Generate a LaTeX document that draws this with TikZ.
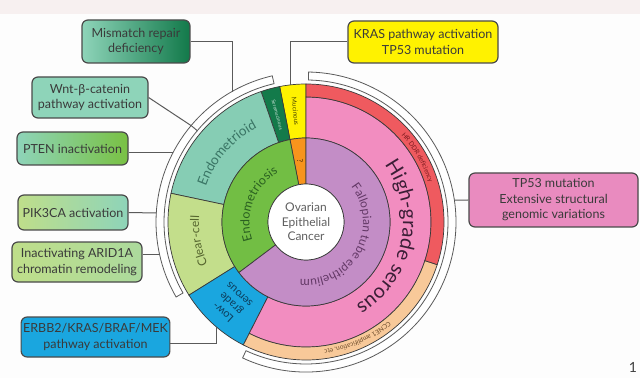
\documentclass[tikz,border=0pt]{standalone}
\usepackage{fontspec}
\setmainfont{Lato}
\usetikzlibrary{decorations.text}
\definecolor{bgcol}{HTML}{FDFDFD}
\definecolor{topstrip}{HTML}{F7F0F0}
\definecolor{ringline}{HTML}{3A3A3A}
\definecolor{brackline}{HTML}{5A5A5A}
\definecolor{boxline}{HTML}{4A4A4A}
\definecolor{boxtext}{HTML}{3A3A3A}
\definecolor{endoTeal}{HTML}{86CDB4}
\definecolor{seroGreen}{HTML}{137A4A}
\definecolor{mucYellow}{HTML}{FFF200}
\definecolor{qOrange}{HTML}{F7941D}
\definecolor{endosGreen}{HTML}{72BE44}
\definecolor{clearGreen}{HTML}{C3DE8B}
\definecolor{lgsBlue}{HTML}{1AA6DF}
\definecolor{fallPurple}{HTML}{C38DC6}
\definecolor{hgsPink}{HTML}{F28DC0}
\definecolor{ddrRed}{HTML}{EF5A5F}
\definecolor{ccnePeach}{HTML}{F8C999}
\definecolor{tealBox}{HTML}{8ED4B9}
\definecolor{darkGreenBox}{HTML}{12794A}
\definecolor{greenBox}{HTML}{79C143}
\definecolor{lightGreenBox}{HTML}{BFDE8A}
\definecolor{pinkBox}{HTML}{E98BBF}
\definecolor{endoTxt}{HTML}{3A7565}
\definecolor{endosTxt}{HTML}{2A6020}
\definecolor{fallTxt}{HTML}{633866}
\definecolor{clearTxt}{HTML}{55652E}
\definecolor{hgsTxt}{HTML}{3B1E36}
\definecolor{lgsTxt}{HTML}{0D3D5C}
\definecolor{ddrTxt}{HTML}{7A1A1E}
\definecolor{ccneTxt}{HTML}{6B4A2A}
\definecolor{centerTxt}{HTML}{606060}
\newcommand{\fsz}[2]{\fontsize{#1}{#2}\selectfont}
% ring segment: color, a1, a2, r1, r2
\newcommand{\ringseg}[5]{\filldraw[ringpart, fill=#1] ([shift={(#2:#4)}]O) arc[start angle=#2, end angle=#3, radius=#4] -- ([shift={(#3:#5)}]O) arc[start angle=#3, end angle=#2, radius=#5] -- cycle;}
% bracket band: a1, a2, r1, r2
\newcommand{\bracketband}[4]{\filldraw[brackpart] ([shift={(#1:#3)}]O) arc[start angle=#1, end angle=#2, radius=#3] -- ([shift={(#2:#4)}]O) arc[start angle=#2, end angle=#1, radius=#4] -- cycle;}
% text on arc (clockwise): text, a1, a2, r, format
\newcommand{\arctext}[5]{\path[decorate, decoration={text along path, text align=center, text={|#5|#1}}] ([shift={(#2:#4)}]O) arc[start angle=#2, end angle=#3, radius=#4];}
\begin{document}
\begin{tikzpicture}[x=1pt, y=1pt,
  ringpart/.style={draw=ringline, line width=0.7pt},
  brackpart/.style={draw=brackline, fill=white, line width=0.8pt},
  infobox/.style={draw=boxline, line width=1.2pt, rounded corners=6pt, align=center, text=boxtext, font=\fsz{12.5}{15.5}, inner sep=2pt},
  conn/.style={draw=brackline, line width=1pt}]
\useasboundingbox (0,0) rectangle (640,378);
\fill[bgcol] (0,0) rectangle (640,378);
\fill[topstrip] (0,364) rectangle (640,378);
\coordinate (O) at (306,156);

% brackets
\bracketband{89}{-115}{142}{150}
\bracketband{103}{140}{142}{150}
\bracketband{140}{210}{142}{150}

% middle ring
\ringseg{mucYellow}{90}{101}{84}{138}
\ringseg{seroGreen}{101}{109}{84}{138}
\ringseg{endoTeal}{109}{168}{84}{138}
\ringseg{clearGreen}{168}{212}{84}{138}
\ringseg{lgsBlue}{212}{243}{84}{138}
\ringseg{hgsPink}{-117}{90}{84}{125}
\ringseg{ccnePeach}{-117}{-18}{125}{138}
\ringseg{ddrRed}{-18}{90}{125}{138}
% inner ring
\ringseg{qOrange}{90}{101}{38}{84}
\ringseg{endosGreen}{101}{217}{38}{84}
\ringseg{fallPurple}{-143}{90}{38}{84}

\node[circle, fill=white, draw=ringline, line width=0.7pt, minimum size=76pt, inner sep=0pt, align=center, font=\fsz{12}{14.5}, text=centerTxt] (center) at (O) {Ovarian\\Epithelial\\Cancer};

% ring texts
\arctext{Endometriosis}{212}{106}{56.5}{\fsz{12.5}{14}\color{endosTxt}}
\arctext{Fallopian tube epithelium}{86}{-144}{57}{\fsz{12}{14}\color{fallTxt}}
\arctext{Endometrioid}{166}{112}{106}{\fsz{13.5}{15}\color{endoTxt}}
\arctext{Clear-cell}{210}{170}{107}{\fsz{12}{13}\color{clearTxt}}
\arctext{High-grade serous}{86}{-109}{97}{\fsz{20}{22}\color{hgsTxt}}
\arctext{HR DDR deficiency}{85}{-25}{129}{\fsz{6.5}{7}\color{ddrTxt}}
\arctext{CCNE1 amplification, etc}{-22}{-110}{129}{\fsz{6.5}{7}\color{ccneTxt}}
\node[rotate=-75, font=\fsz{5}{6}, text=white!75!seroGreen, inner sep=0pt] (seroLbl) at ([shift={(105:111)}]O) {Seromucinous};
\node[rotate=-84.5, font=\fsz{6.5}{7}, text=black!70!mucYellow, inner sep=0pt] (mucLbl) at ([shift={(95.5:111)}]O) {Mucinous};
\node[rotate=-84.5, font=\fsz{8}{9}, text=black!65!qOrange, inner sep=0pt] (qLbl) at ([shift={(95.5:61)}]O) {?};
\node[rotate=137.5, align=center, font=\fsz{11}{12}, text=lgsTxt, inner sep=0pt] (lgsLbl) at ([shift={(227.5:111)}]O) {Low-\\grade\\serous};

% boxes
\node[infobox, left color=tealBox, right color=darkGreenBox, minimum width=108pt, minimum height=43pt] (mmr) at (136,336.5) {Mismatch repair\\deficiency};
\node[infobox, fill=tealBox, minimum width=116pt, minimum height=41pt] (wnt) at (90,280.5) {Wnt-β-catenin\\pathway activation};
\node[infobox, left color=tealBox, right color=greenBox, minimum width=111pt, minimum height=33pt] (pten) at (72.5,229.5) {PTEN inactivation};
\node[infobox, left color=lightGreenBox, right color=tealBox, minimum width=110pt, minimum height=35pt] (pik) at (73,165.5) {PIK3CA activation};
\node[infobox, left color=lightGreenBox, right color=lightGreenBox!60!tealBox, minimum width=130pt, minimum height=40pt] (arid) at (77,116) {Inactivating ARID1A\\chromatin remodeling};
\node[infobox, fill=lgsBlue, minimum width=145pt, minimum height=40pt] (erbb) at (95.5,41) {ERBB2/KRAS/BRAF/MEK\\pathway activation};
\node[infobox, fill=mucYellow, minimum width=150pt, minimum height=42pt] (kras) at (423,336) {KRAS pathway activation\\TP53 mutation};
\node[infobox, fill=pinkBox, minimum width=169pt, minimum height=54pt] (tp53) at (553.5,178) {TP53 mutation\\Extensive structural\\genomic variations};
\node[font=\fsz{14}{16}, text=black!75] (pagenum) at (633,11) {1};

% connector ends
\coordinate (mmrEnd) at ([shift={(119.56:150)}]O);
\coordinate (krasEnd) at ([shift={(96.66:138)}]O);
\coordinate (wntEnd) at ([shift={(140:150)}]O);
\coordinate (ptenEnd) at ([shift={(152.2:150)}]O);
\coordinate (pikEnd) at ([shift={(176.56:150)}]O);
\coordinate (aridEnd) at ([shift={(192.7:150)}]O);
\coordinate (erbbEnd) at ([shift={(229.3:138)}]O);
\coordinate (tp53End) at ([shift={(8.43:150)}]O);

\draw[conn] (mmr.east) -| (mmrEnd);
\draw[conn] (kras.west) -| (krasEnd);
\draw[conn] (wnt.east) -- (wntEnd);
\draw[conn] (pten.east |- ptenEnd) -- (ptenEnd);
\draw[conn] (pik.east) -- (pikEnd);
\draw[conn] (arid.east |- aridEnd) -- (aridEnd);
\draw[conn] ([yshift=-6pt]erbb.east) -| (erbbEnd);
\draw[conn] (tp53.west) -- (tp53End);
\end{tikzpicture}
\end{document}
